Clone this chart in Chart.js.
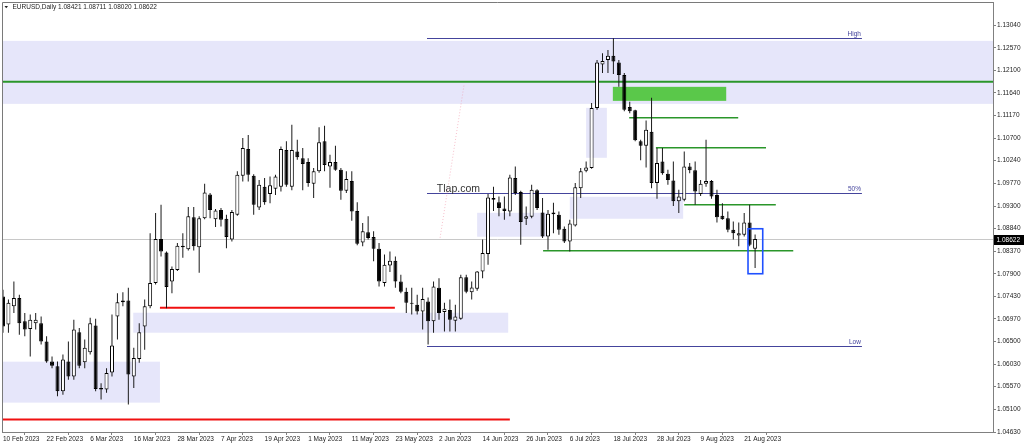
<!DOCTYPE html>
<html><head><meta charset="utf-8">
<script src="https://cdn.jsdelivr.net/npm/chart.js@4.4.1/dist/chart.umd.min.js"></script>
<style>html,body{margin:0;padding:0;background:#fff;}canvas{display:block;}</style>
</head><body>
<canvas id="c" width="1024" height="446"></canvas>
<script>
// ---- data ----
const titleText = 'EURUSD,Daily 1.08421 1.08711 1.08020 1.08622';
const tickDates = ['10 Feb 2023','22 Feb 2023','6 Mar 2023','16 Mar 2023','28 Mar 2023','7 Apr 2023','19 Apr 2023','1 May 2023','11 May 2023','23 May 2023','2 Jun 2023','14 Jun 2023','26 Jun 2023','6 Jul 2023','18 Jul 2023','28 Jul 2023','9 Aug 2023','21 Aug 2023'];
const barsPerTick = 8;
const yTickValues = [1.13040,1.12570,1.12100,1.11640,1.11170,1.10700,1.10240,1.09770,1.09300,1.08840,1.08370,1.07900,1.07430,1.06970,1.06500,1.06030,1.05570,1.05100,1.04630];

const opens = [1.0743,1.0685,1.0723,1.0740,1.0692,1.0676,1.0688,1.0688,1.0650,1.0609,
1.0599,1.0547,1.0609,1.0578,1.0669,1.0607,1.0628,1.0683,1.0554,1.0551,
1.0586,1.0702,1.0731,1.0735,1.0578,1.0614,1.0681,1.0723,1.0771,1.0862,
1.0834,1.0774,1.0798,1.0848,1.0841,1.0907,1.0845,1.0905,1.0954,1.0903,
1.0922,1.0904,1.0861,1.0912,1.0993,1.1048,1.0993,1.0927,1.0970,1.0955,
1.0966,1.0970,1.1046,1.0970,1.1043,1.1029,1.1021,1.0976,1.1002,1.1064,
1.1012,1.1021,1.1005,1.0962,1.0982,1.0920,1.0855,1.0876,1.0866,1.0842,
1.0771,1.0807,1.0817,1.0774,1.0753,1.0730,1.0726,1.0712,1.0733,1.0692,
1.0761,1.0711,1.0715,1.0693,1.0697,1.0783,1.0752,1.0759,1.0795,1.0831,
1.0947,1.0938,1.0925,1.0919,1.0988,1.0959,1.0904,1.0908,1.0963,1.0917,
1.0867,1.0913,1.0912,1.0883,1.0857,1.0890,1.0967,1.1003,1.1009,1.1133,
1.1223,1.1232,1.1241,1.1227,1.1201,1.1135,1.1128,1.1064,1.1055,1.1084,
1.0978,1.1022,1.0997,1.0983,1.0940,1.0943,1.1012,1.1004,1.0955,1.0976,
1.0982,1.0953,1.0910,1.0905,1.0881,1.0869,1.0871,1.0896,1.08421];
const highs = [1.0757,1.0737,1.0774,1.0747,1.0709,1.0706,1.0709,1.0702,1.0661,1.0619,
1.0609,1.0623,1.0650,1.0695,1.0678,1.0654,1.0699,1.0697,1.0564,1.0595,
1.0706,1.0750,1.0752,1.0761,1.0637,1.0688,1.0737,1.0874,1.0916,1.0933,
1.0836,1.0805,1.0854,1.0874,1.0928,1.0928,1.0909,1.0976,1.0957,1.0924,
1.0926,1.0912,1.0922,1.1002,1.1071,1.1077,1.0996,1.0984,1.0988,1.0991,
1.0995,1.1053,1.1064,1.1098,1.1067,1.1050,1.1029,1.1009,1.1093,1.1096,
1.1036,1.1055,1.1009,1.1002,1.1002,1.0938,1.0895,1.0909,1.0878,1.0854,
1.0830,1.0836,1.0826,1.0788,1.0761,1.0761,1.0747,1.0761,1.0741,1.0774,
1.0781,1.0730,1.0737,1.0726,1.0788,1.0788,1.0774,1.0796,1.0861,1.0955,
1.0970,1.0950,1.0950,1.0995,1.1012,1.0962,1.0929,1.0974,1.0965,1.0947,
1.0922,1.0937,1.0919,1.0888,1.0902,1.0978,1.1009,1.1022,1.1143,1.1232,
1.1246,1.1253,1.1277,1.1232,1.1205,1.1146,1.1129,1.1067,1.1107,1.1154,
1.1050,1.1050,1.1005,1.1022,1.0964,1.1043,1.1019,1.1022,1.0984,1.1067,
1.0984,1.0964,1.0936,1.0919,1.0898,1.0896,1.0916,1.0933,1.08711];
const lows = [1.0668,1.0668,1.0709,1.0664,1.0661,1.0619,1.0675,1.0644,1.0606,1.0595,
1.0537,1.0540,1.0571,1.0571,1.0595,1.0595,1.0623,1.0547,1.0530,1.0544,
1.0578,1.0654,1.0723,1.0520,1.0554,1.0606,1.0633,1.0719,1.0768,1.0826,
1.0719,1.0750,1.0796,1.0823,1.0838,1.0838,1.0792,1.0903,1.0905,1.0887,
1.0888,1.0843,1.0857,1.0910,1.0981,1.0981,1.0912,1.0922,1.0933,1.0936,
1.0953,1.0960,1.0970,1.0963,1.1026,1.0963,1.0970,1.0947,1.0999,1.1002,
1.0968,1.1003,1.0943,1.0957,1.0900,1.0849,1.0847,1.0861,1.0816,1.0764,
1.0764,1.0794,1.0761,1.0750,1.0709,1.0706,1.0706,1.0675,1.0644,1.0668,
1.0695,1.0671,1.0671,1.0671,1.0695,1.0750,1.0737,1.0755,1.0781,1.0809,
1.0920,1.0909,1.0902,1.0909,1.0953,1.0850,1.0891,1.0905,1.0922,1.0864,
1.0840,1.0874,1.0871,1.0854,1.0836,1.0888,1.0947,1.1000,1.1007,1.1129,
1.1205,1.1205,1.1203,1.1177,1.1126,1.1122,1.1064,1.1025,1.1010,1.0967,
1.0945,1.0995,1.0974,1.0930,1.0916,1.0940,1.0998,1.0933,1.0951,1.0970,
1.0945,1.0896,1.0902,1.0876,1.0861,1.0847,1.0867,1.0847,1.08020];
const closes = [1.0681,1.0730,1.0740,1.0688,1.0675,1.0695,1.0695,1.0650,1.0609,1.0600,
1.0547,1.0613,1.0578,1.0675,1.0600,1.0637,1.0688,1.0552,1.0551,1.0585,
1.0642,1.0731,1.0735,1.0582,1.0616,1.0669,1.0723,1.0771,1.0862,1.0836,
1.0763,1.0800,1.0848,1.0845,1.0909,1.0847,1.0905,1.0958,1.0922,1.0921,
1.0902,1.0866,1.0918,1.0995,1.1050,1.0995,1.0933,1.0974,1.0938,1.0973,
1.0991,1.1048,1.0974,1.1046,1.1031,1.1017,1.0978,1.1002,1.1062,1.1015,
1.1021,1.1005,1.0962,1.0986,1.0919,1.0852,1.0878,1.0864,1.0842,1.0774,
1.0809,1.0817,1.0774,1.0753,1.0730,1.0728,1.0712,1.0738,1.0692,1.0764,
1.0709,1.0718,1.0695,1.0702,1.0783,1.0753,1.0762,1.0795,1.0833,1.0948,
1.0943,1.0926,1.0920,1.0989,1.0957,1.0897,1.0909,1.0964,1.0926,1.0867,
1.0914,1.0917,1.0881,1.0857,1.0894,1.0969,1.1002,1.1010,1.1133,1.1227,
1.1230,1.1241,1.1229,1.1201,1.1129,1.1126,1.1066,1.1055,1.1088,1.0978,
1.1019,1.0998,1.0984,1.0940,1.0950,1.1012,1.1004,1.0960,1.0976,1.0982,
1.0950,1.0907,1.0903,1.0881,1.0874,1.0874,1.0896,1.0850,1.08622];
const lastPrice = 1.08622;

// drawn objects, in bar index / price units: [fromBar, toBar, priceTop, priceBottom]
const supplyDemandZones = [
  [-5, 200, 1.12716, 1.11414],
  [-5, 28.8, 1.06084, 1.05237],
  [23.9, 92.7, 1.07096, 1.06683],
  [87.0, 100.0, 1.09162, 1.08667],
  [104.0, 124.8, 1.09493, 1.09039],
  [107.0, 110.8, 1.11332, 1.10299]
];
const greenZone = [111.9, 132.7, 1.11766, 1.11476];
// [fromBar, toBar, price]
const greenLevels = [
  [-5, 200, 1.11869],
  [114.9, 134.9, 1.11125],
  [119.8, 140.0, 1.10505],
  [125.0, 141.8, 1.09328],
  [99.1, 145.0, 1.08377]
];
const redLevels = [
  [28.8, 71.9, 1.07200],
  [-5, 93.0, 1.04886]
];
const fibLabels = ['High', '50%', 'Low'];
const fibPrices = [1.12778, 1.09576, 1.06415];
const fibRange = [77.8, 157.6];
const fibTrend = [[80.2, 1.08646], [84.6, 1.11807]];
const focusBox = [136.7, 139.4, 1.08832, 1.07902];
const watermark = {text: 'Tlap.com', bar: 79.6, price: 1.09596};

// ---- chart ----
const FONT = "'Liberation Sans', Arial, sans-serif";
const idx = opens.map((_, i) => i);
const bodyData = idx.map(i => ({x: i, y: [opens[i], closes[i]]}));
const wickData = idx.map(i => ({x: i, y: [lows[i], highs[i]]}));

const annot = {
  id: 'annot',
  beforeDatasetsDraw(chart) {
    const {ctx, chartArea: a, scales: {x, y}} = chart;
    ctx.save();
    ctx.beginPath(); ctx.rect(a.left, a.top, a.right - a.left, a.bottom - a.top); ctx.clip();
    ctx.fillStyle = '#e6e6fa';
    supplyDemandZones.forEach(([b0, b1, p0, p1]) => {
      const X0 = x.getPixelForValue(b0), X1 = x.getPixelForValue(b1);
      const Y0 = y.getPixelForValue(p0), Y1 = y.getPixelForValue(p1);
      ctx.fillRect(X0, Y0, X1 - X0, Y1 - Y0);
    });
    {
      const [b0, b1, p0, p1] = greenZone;
      const X0 = x.getPixelForValue(b0), X1 = x.getPixelForValue(b1);
      const Y0 = y.getPixelForValue(p0), Y1 = y.getPixelForValue(p1);
      ctx.fillStyle = '#5ac84a';
      ctx.fillRect(X0, Y0, X1 - X0, Y1 - Y0);
    }
    // current price line
    const py = Math.round(y.getPixelForValue(lastPrice)) + 0.5;
    ctx.strokeStyle = '#c8c8c8'; ctx.lineWidth = 1;
    ctx.beginPath(); ctx.moveTo(a.left, py); ctx.lineTo(a.right, py); ctx.stroke();
    // fib lines
    ctx.strokeStyle = '#44449c'; ctx.lineWidth = 1;
    fibPrices.forEach(p => {
      const Y = Math.round(y.getPixelForValue(p)) + 0.5;
      ctx.beginPath(); ctx.moveTo(x.getPixelForValue(fibRange[0]), Y); ctx.lineTo(x.getPixelForValue(fibRange[1]), Y); ctx.stroke();
    });
    // fib trend dotted
    ctx.strokeStyle = 'rgba(240,150,170,0.6)'; ctx.setLineDash([1, 2]);
    ctx.beginPath();
    ctx.moveTo(x.getPixelForValue(fibTrend[0][0]), y.getPixelForValue(fibTrend[0][1]));
    ctx.lineTo(x.getPixelForValue(fibTrend[1][0]), y.getPixelForValue(fibTrend[1][1]));
    ctx.stroke(); ctx.setLineDash([]);
    // green levels
    ctx.strokeStyle = '#2a962a';
    greenLevels.forEach(([b0, b1, p], k) => {
      ctx.lineWidth = k === 0 ? 2 : 1.5;
      const Y = y.getPixelForValue(p);
      ctx.beginPath(); ctx.moveTo(x.getPixelForValue(b0), Y); ctx.lineTo(x.getPixelForValue(b1), Y); ctx.stroke();
    });
    ctx.strokeStyle = '#f01010'; ctx.lineWidth = 2;
    redLevels.forEach(([b0, b1, p]) => {
      const Y = y.getPixelForValue(p);
      ctx.beginPath(); ctx.moveTo(x.getPixelForValue(b0), Y); ctx.lineTo(x.getPixelForValue(b1), Y); ctx.stroke();
    });
    // fib labels
    ctx.fillStyle = '#44449c'; ctx.font = '6.5px ' + FONT; ctx.textAlign = 'right'; ctx.textBaseline = 'alphabetic';
    fibPrices.forEach((p, k) => {
      ctx.fillText(fibLabels[k], x.getPixelForValue(fibRange[1]) - 1, y.getPixelForValue(p) - 1.5);
    });
    ctx.restore();
  },
  afterDatasetsDraw(chart) {
    const {ctx, chartArea: a, scales: {x, y}} = chart;
    ctx.save();
    // focus box
    const [b0, b1, p0, p1] = focusBox;
    ctx.strokeStyle = '#1f50ff'; ctx.lineWidth = 1.6;
    const X0 = x.getPixelForValue(b0), X1 = x.getPixelForValue(b1);
    const Y0 = y.getPixelForValue(p0), Y1 = y.getPixelForValue(p1);
    ctx.strokeRect(X0, Y0, X1 - X0, Y1 - Y0);
    // watermark text
    ctx.fillStyle = '#333333'; ctx.font = '10.5px ' + FONT; ctx.textAlign = 'left'; ctx.textBaseline = 'alphabetic';
    ctx.fillText(watermark.text, x.getPixelForValue(watermark.bar), y.getPixelForValue(watermark.price));
    // left/top border
    ctx.strokeStyle = '#7a7a7a'; ctx.lineWidth = 1;
    ctx.beginPath();
    ctx.moveTo(a.left + 0.5, a.bottom); ctx.lineTo(a.left + 0.5, a.top + 0.5); ctx.lineTo(a.right, a.top + 0.5);
    ctx.stroke();
    // title
    ctx.fillStyle = '#222';
    ctx.beginPath(); ctx.moveTo(4.5, 6); ctx.lineTo(8, 6); ctx.lineTo(6.25, 8.2); ctx.closePath(); ctx.fill();
    ctx.font = '6.5px ' + FONT; ctx.textAlign = 'left';
    ctx.fillText(titleText, 12.5, 9.4);
    // price tag
    const py = Math.round(y.getPixelForValue(lastPrice));
    ctx.fillStyle = '#000';
    ctx.fillRect(a.right + 1, py - 4, 30, 10);
    ctx.fillStyle = '#fff'; ctx.textBaseline = 'middle';
    ctx.fillText(lastPrice.toFixed(5), a.right + 3.5, py + 1);
    ctx.restore();
  }
};

new Chart(document.getElementById('c'), {
  type: 'bar',
  data: { datasets: [
    { data: bodyData, order: 0, grouped: false, barThickness: 4, borderWidth: 1, borderColor: '#000',
      borderSkipped: false, minBarLength: 1, inflateAmount: 0,
      backgroundColor: c => (closes[c.dataIndex] >= opens[c.dataIndex] ? '#ffffff' : '#000000') },
    { data: wickData, order: 1, grouped: false, barThickness: 1, borderWidth: 0, inflateAmount: 0,
      backgroundColor: '#1a1a1a' }
  ]},
  options: {
    responsive: false, animation: false,
    layout: { padding: { left: 2, top: 2, right: 0, bottom: 0 } },
    plugins: { legend: { display: false }, tooltip: { enabled: false }, title: { display: false } },
    scales: {
      x: {
        type: 'linear', offset: false, min: -0.18, max: 181.65,
        grid: { display: true, drawOnChartArea: false, drawTicks: true, tickLength: 3, color: '#808080' },
        border: { display: true, color: '#808080', width: 1 },
        ticks: { align: 'start', padding: 0, autoSkip: false, maxRotation: 0, color: '#222',
          font: { family: FONT, size: 6.5 },
          callback: v => tickDates[Math.round(v / barsPerTick)] },
        afterBuildTicks: s => { s.ticks = tickDates.map((d, k) => ({ value: k * barsPerTick })); },
        afterFit: s => { s.height = 14; s.paddingLeft = 0; s.paddingRight = 0; }
      },
      y: {
        type: 'linear', position: 'right', min: 1.0463, max: 1.1352,
        grid: { display: true, drawOnChartArea: false, drawTicks: true, tickLength: 3, color: '#808080' },
        border: { display: true, color: '#808080', width: 1 },
        ticks: { padding: 1, autoSkip: false, color: '#222', font: { family: FONT, size: 6.5 },
          callback: v => Number(v).toFixed(5) },
        afterBuildTicks: s => { s.ticks = yTickValues.map(v => ({ value: v })); },
        afterFit: s => { s.width = 31; s.paddingTop = 0; s.paddingBottom = 0; }
      }
    }
  },
  plugins: [annot]
});
</script>
</body></html>
